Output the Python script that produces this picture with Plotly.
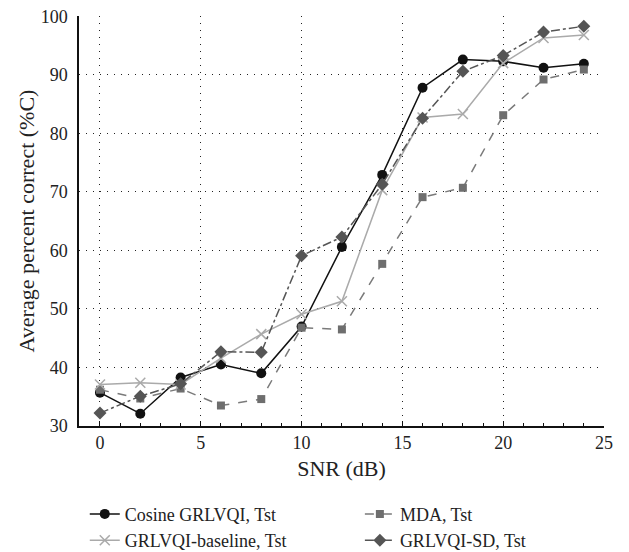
import plotly.graph_objects as go

snr = [0, 2, 4, 6, 8, 10, 12, 14, 16, 18, 20, 22, 24]
cosine = [35.7, 32.1, 38.3, 40.5, 39.0, 47.0, 60.6, 72.9, 87.8, 92.6, 92.3, 91.2, 91.9]
mda = [36.2, 34.7, 36.4, 33.5, 34.6, 46.8, 46.5, 57.7, 69.1, 70.7, 83.1, 89.2, 90.9]
baseline = [37.1, 37.4, 37.1, 41.6, 45.7, 49.1, 51.3, 70.3, 82.7, 83.3, 92.0, 96.3, 96.8]
sd = [32.2, 35.1, 37.2, 42.7, 42.6, 59.1, 62.3, 71.3, 82.6, 90.6, 93.3, 97.3, 98.3]

names = ["Cosine GRLVQI, Tst", "MDA, Tst", "GRLVQI-baseline, Tst", "GRLVQI-SD, Tst"]

FONT = "Liberation Serif"
GRIDDASH = "1px,6px"

fig = go.Figure()
fig.add_trace(go.Scatter(x=snr, y=cosine, name=names[0], mode="lines+markers", legend="legend",
                         line=dict(color="#111111", width=1.5, dash="solid"),
                         marker=dict(symbol="circle", size=10, color="#111111")))
fig.add_trace(go.Scatter(x=snr, y=mda, name=names[1], mode="lines+markers", legend="legend2",
                         line=dict(color="#7a7a7a", width=1.5, dash="dash"),
                         marker=dict(symbol="square", size=8, color="#6e6e6e")))
fig.add_trace(go.Scatter(x=snr, y=baseline, name=names[2], mode="lines+markers", legend="legend",
                         line=dict(color="#aaaaaa", width=1.5, dash="solid"),
                         marker=dict(symbol="x-thin", size=10, color="#aaaaaa",
                                     line=dict(color="#aaaaaa", width=1.5))))
fig.add_trace(go.Scatter(x=snr, y=sd, name=names[3], mode="lines+markers", legend="legend2",
                         line=dict(color="#555555", width=1.5, dash="dashdot"),
                         marker=dict(symbol="diamond", size=10, color="#555555")))

leg_common = dict(orientation="v", xanchor="left", y=-0.17, yanchor="top",
                  tracegroupgap=0, traceorder="normal",
                  font=dict(family=FONT, size=18, color="#222222"),
                  bgcolor="rgba(0,0,0,0)")

fig.update_layout(
    width=629, height=552,
    margin=dict(l=79, r=25, t=16, b=126, autoexpand=False),
    paper_bgcolor="white", plot_bgcolor="white",
    font=dict(family=FONT, size=18, color="#222222"),
    showlegend=True,
    legend=dict(x=0.011, **leg_common),
    legend2=dict(x=0.535, **leg_common),
)
fig.update_xaxes(range=[-1.04, 25], tickvals=[0, 5, 10, 15, 20, 25],
                 showline=True, linecolor="#111111", linewidth=1.5,
                 showgrid=True, gridcolor="#222222", griddash=GRIDDASH, gridwidth=1,
                 ticks="inside", ticklen=5, tickcolor="#111111",
                 minor=dict(dtick=1, tick0=0, ticks="inside", ticklen=3, tickcolor="#111111", showgrid=False),
                 zeroline=False, mirror=False, automargin=False,
                 title=dict(text="SNR (dB)", standoff=8),
                 tickfont=dict(size=18))
fig.update_yaxes(range=[30, 100.05], dtick=10,
                 showline=True, linecolor="#111111", linewidth=1.5,
                 showgrid=True, gridcolor="#222222", griddash=GRIDDASH, gridwidth=1,
                 ticks="", zeroline=False, automargin=False, ticklabelstandoff=6,
                 title=dict(text="Average percent correct (%C)", standoff=0),
                 tickfont=dict(size=18))

fig.write_html("out.html", config={"displayModeBar": False},
               post_script="document.body.style.margin='0';")
